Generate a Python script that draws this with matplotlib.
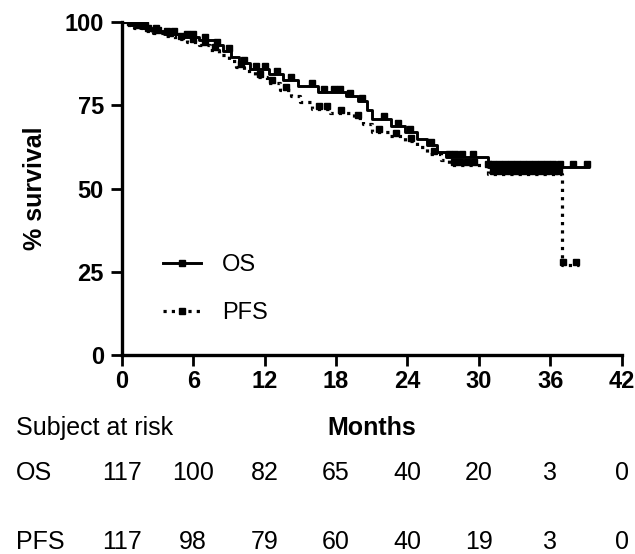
import numpy as np
import matplotlib
matplotlib.use("Agg")
import matplotlib.pyplot as plt
from matplotlib.transforms import blended_transform_factory
from matplotlib.lines import Line2D

plt.rcParams['font.family'] = ['Liberation Sans', 'DejaVu Sans']

# ---- data ----
os_times = [0, 0.6, 1.5, 2.5, 3.5, 5.0, 6.5, 7.8, 8.5, 9.2, 9.8, 10.8, 12.4, 13.5, 14.8,
            16.5, 18.8, 19.8, 20.6, 21.0, 22.6, 23.8, 24.8, 25.6, 26.5, 27.2, 30.8]
os_surv = [100, 99.1, 98.3, 97.4, 96.5, 95.6, 94.7, 93.0, 91.2, 89.4, 87.6, 86.0, 84.4, 82.6, 80.8,
           79.0, 77.8, 76.4, 73.5, 70.8, 68.8, 67.0, 65.0, 63.0, 61.0, 59.6, 56.6]
os_end = 39.3
os_censor = [0.3, 1.0, 1.9, 2.9, 3.8, 4.4, 5.5, 6.0, 7.0, 8.0, 9.0, 10.3, 11.3, 12.0, 13.0,
             14.2, 16.0, 17.0, 17.8, 18.3, 19.2, 20.2, 22.0, 23.2, 24.2, 26.0, 27.5, 28.0,
             28.6, 29.5, 30.8, 31.2, 31.7, 32.2, 32.7, 33.2, 33.7, 34.2, 34.7, 35.2, 35.7,
             36.2, 36.8, 37.9, 39.1]

pfs_times = [0, 0.4, 1.0, 1.8, 2.6, 3.5, 4.5, 5.5, 6.5, 7.4, 8.2, 9.0, 9.6, 10.3, 11.2, 12.2,
             13.3, 14.2, 15.0, 16.0, 17.5, 19.5, 20.3, 21.0, 22.5, 23.8, 24.8, 25.6, 26.8,
             27.5, 30.8, 37.0]
pfs_surv = [100, 99.1, 98.3, 97.4, 96.6, 95.7, 94.8, 93.9, 93.0, 91.6, 90.0, 88.3, 86.6, 85.2,
            83.4, 81.6, 79.6, 77.8, 75.9, 74.0, 72.8, 71.2, 69.3, 67.0, 65.8, 64.2, 62.5, 60.5,
            58.5, 57.0, 54.3, 27.2]
pfs_end = 38.4
pfs_censor = [0.7, 1.4, 2.2, 3.0, 4.0, 5.0, 6.0, 7.0, 7.8, 10.0, 11.6, 12.6, 13.8, 16.6,
              17.2, 18.4, 19.8, 21.6, 23.0, 24.3, 26.2, 27.9, 28.4, 29.0, 29.6, 31.2, 31.7,
              32.2, 32.7, 33.2, 33.7, 34.2, 34.7, 35.2, 35.7, 36.3, 36.7, 37.1, 38.2]

x_ticks = [0, 6, 12, 18, 24, 30, 36, 42]
y_ticks = [0, 25, 50, 75, 100]
risk_times = [0, 6, 12, 18, 24, 30, 36, 42]
os_at_risk = [117, 100, 82, 65, 40, 20, 3, 0]
pfs_at_risk = [117, 98, 79, 60, 40, 19, 3, 0]

# ---- figure ----
fig = plt.figure(figsize=(6.35, 5.54), dpi=100)
ax = fig.add_axes([0.192, 0.359, 0.787, 0.601])

DOT = (0, (1, 1.6))


def step_xy(times, surv, end):
    x = list(times) + [end]
    y = list(surv) + [surv[-1]]
    return x, y


def value_at(times, surv, t):
    idx = np.searchsorted(np.asarray(times), t, side='right') - 1
    return np.asarray(surv)[idx]


ox, oy = step_xy(os_times, os_surv, os_end)
px, py = step_xy(pfs_times, pfs_surv, pfs_end)

ax.step(ox, oy, where='post', color='black', lw=2.1, solid_capstyle='butt', zorder=3)
ax.step(px, py, where='post', color='black', lw=2.3, linestyle=DOT, zorder=3)

oc = np.asarray(os_censor)
pc = np.asarray(pfs_censor)
ax.plot(oc, value_at(os_times, os_surv, oc) + 0.9, linestyle='none', marker='s',
        markersize=4.4, color='black', zorder=4)
ax.plot(pc, value_at(pfs_times, pfs_surv, pc) + 0.9, linestyle='none', marker='s',
        markersize=4.4, color='black', zorder=4)

ax.set_xlim(0, 42)
ax.set_ylim(0, 100)
ax.set_xticks(x_ticks)
ax.set_yticks(y_ticks)
for s in ['top', 'right']:
    ax.spines[s].set_visible(False)
for s in ['left', 'bottom']:
    ax.spines[s].set_linewidth(2.4)
ax.tick_params(axis='both', direction='out', length=8, width=2.0, labelsize=17)
ax.tick_params(axis='x', pad=3)
ax.tick_params(axis='y', pad=5)
for lab in ax.get_xticklabels() + ax.get_yticklabels():
    lab.set_fontweight('bold')
ax.set_ylabel('% survival', fontsize=18, fontweight='bold')
ax.yaxis.set_label_coords(-0.15, 0.5)

# legend
leg_handles = [Line2D([], [], color='black', lw=2.1, marker='s', markersize=4.4),
               Line2D([], [], color='black', lw=2.3, linestyle=DOT, marker='s',
                      markersize=4.4)]
ax.legend(leg_handles, ['OS', 'PFS'], loc='upper left', numpoints=1,
          bbox_to_anchor=(0.045, 0.36), frameon=False, fontsize=17,
          handlelength=1.6, handletextpad=0.9, labelspacing=1.1, borderpad=0.3)

# x label and risk table
fig.text(0.585, 0.228, 'Months', fontsize=18, fontweight='bold', ha='center', va='center')
fig.text(0.025, 0.228, 'Subject at risk', fontsize=18, ha='left', va='center')
trans = blended_transform_factory(ax.transData, fig.transFigure)
fig.text(0.025, 0.146, 'OS', fontsize=18, ha='left', va='center')
fig.text(0.025, 0.022, 'PFS', fontsize=18, ha='left', va='center')
for t, n in zip(risk_times, os_at_risk):
    ax.text(t, 0.146, str(n), transform=trans, fontsize=18, ha='center', va='center',
            clip_on=False)
for t, n in zip(risk_times, pfs_at_risk):
    ax.text(t, 0.022, str(n), transform=trans, fontsize=18, ha='center', va='center',
            clip_on=False)

fig.savefig('out.png', dpi=100)
